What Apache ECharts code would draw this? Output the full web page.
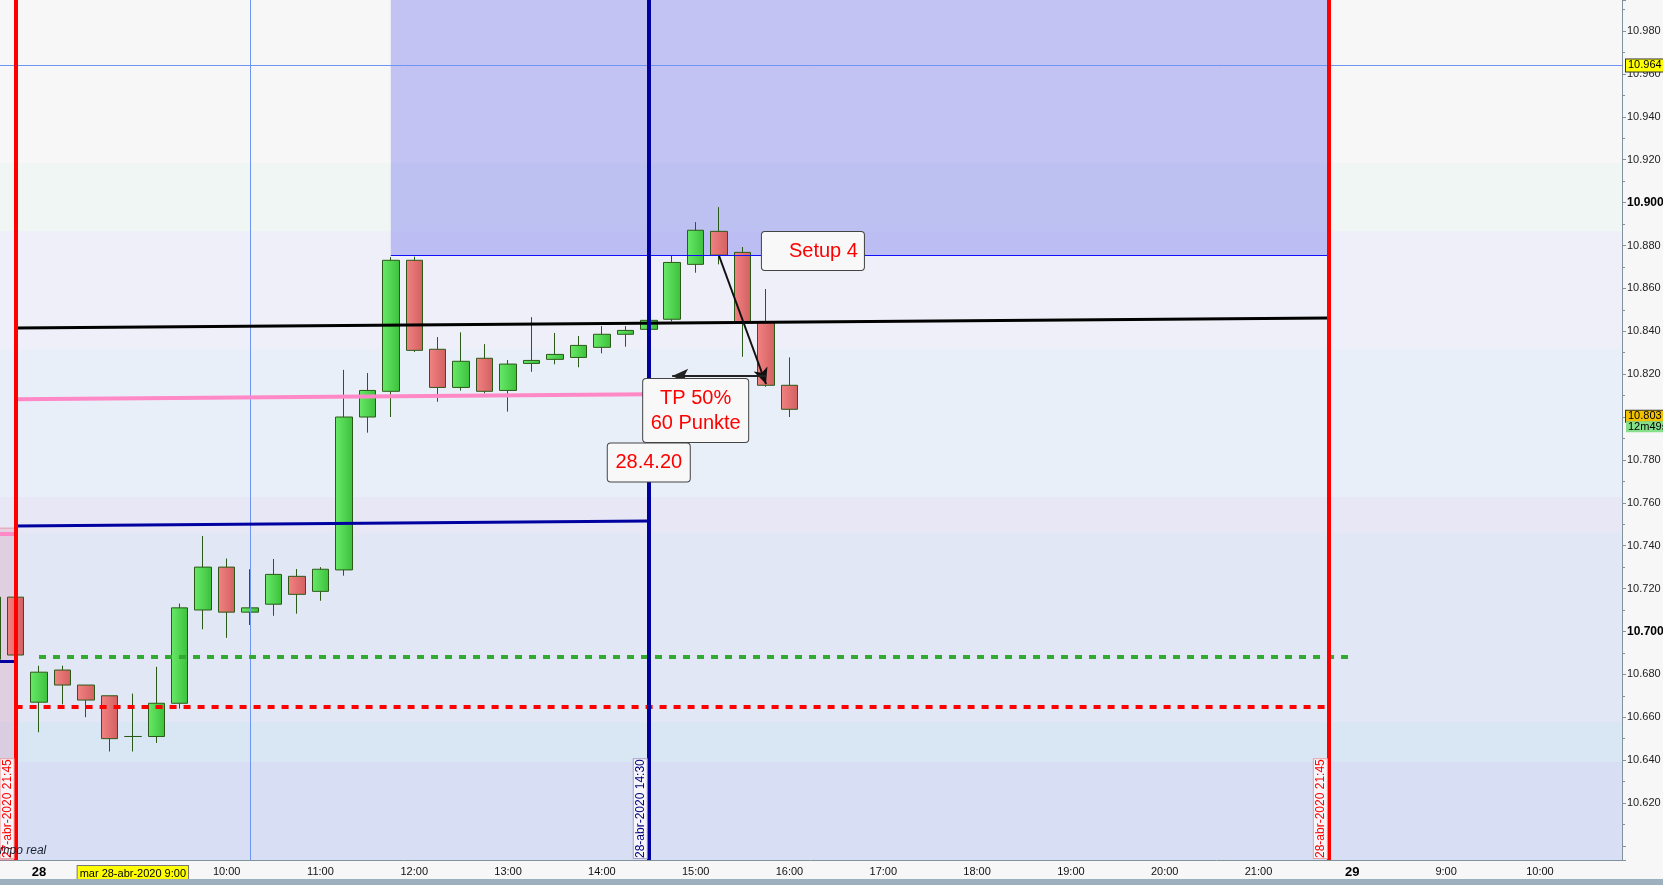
<!DOCTYPE html>
<html>
<head>
<meta charset="utf-8">
<script src="https://cdn.jsdelivr.net/npm/echarts@6/dist/echarts.min.js"></script>
<style>
    html, body { margin: 0; padding: 0; background: #f7f7f7; }
    #chart { width: 1663px; height: 885px; }
</style>
</head>
<body>
<div id="chart"></div>
<script>
// 15 minute slots, session 08:00 - 21:45
const slots = [
    '27 21:30', '27 21:45',
    '28 08:00', '28 08:15', '28 08:30', '28 08:45',
    '28 09:00', '28 09:15', '28 09:30', '28 09:45',
    '28 10:00', '28 10:15', '28 10:30', '28 10:45',
    '28 11:00', '28 11:15', '28 11:30', '28 11:45',
    '28 12:00', '28 12:15', '28 12:30', '28 12:45',
    '28 13:00', '28 13:15', '28 13:30', '28 13:45',
    '28 14:00', '28 14:15', '28 14:30', '28 14:45',
    '28 15:00', '28 15:15', '28 15:30', '28 15:45',
    '28 16:00', '28 16:15', '28 16:30', '28 16:45',
    '28 17:00', '28 17:15', '28 17:30', '28 17:45',
    '28 18:00', '28 18:15', '28 18:30', '28 18:45',
    '28 19:00', '28 19:15', '28 19:30', '28 19:45',
    '28 20:00', '28 20:15', '28 20:30', '28 20:45',
    '28 21:00', '28 21:15', '28 21:30', '28 21:45',
    '29 08:00', '29 08:15', '29 08:30', '29 08:45',
    '29 09:00', '29 09:15', '29 09:30', '29 09:45',
    '29 10:00', '29 10:15', '29 10:30', '29 10:45'
]

// [open, close, low, high]
const candles = [
    [10.687, 10.716, 10.684, 10.720],
    [10.716, 10.689, 10.689, 10.717],
    [10.667, 10.681, 10.653, 10.684],
    [10.682, 10.675, 10.666, 10.684],
    [10.675, 10.668, 10.660, 10.675],
    [10.670, 10.650, 10.644, 10.670],
    [10.651, 10.651, 10.644, 10.671],
    [10.651, 10.6665, 10.648, 10.6835],
    [10.6665, 10.711, 10.664, 10.713],
    [10.710, 10.730, 10.701, 10.7445],
    [10.730, 10.709, 10.697, 10.734],
    [10.709, 10.711, 10.703, 10.729],
    [10.7127, 10.7266, 10.7073, 10.7338],
    [10.7257, 10.7173, 10.7083, 10.7291],
    [10.7187, 10.729, 10.7143, 10.730],
    [10.7287, 10.800, 10.726, 10.822],
    [10.800, 10.8124, 10.7927, 10.8205],
    [10.812, 10.8731, 10.800, 10.8746],
    [10.8731, 10.8311, 10.8303, 10.8748],
    [10.8316, 10.8138, 10.8071, 10.8373],
    [10.8138, 10.826, 10.8123, 10.8395],
    [10.8274, 10.812, 10.811, 10.834],
    [10.8124, 10.8247, 10.8025, 10.8266],
    [10.825, 10.8264, 10.8211, 10.8466],
    [10.8269, 10.8292, 10.8246, 10.8392],
    [10.8278, 10.8334, 10.8232, 10.8378],
    [10.8325, 10.8386, 10.8297, 10.8424],
    [10.8386, 10.8404, 10.8328, 10.8424],
    [10.8409, 10.8451, 10.8405, 10.8455],
    [10.8456, 10.8721, 10.8446, 10.8751],
    [10.8712, 10.8871, 10.8673, 10.8909],
    [10.8866, 10.8755, 10.8712, 10.8979],
    [10.8768, 10.8444, 10.8281, 10.8793],
    [10.8444, 10.8148, 10.8141, 10.8597],
    [10.8148, 10.8036, 10.800, 10.8278]
]

// x axis labels
const tickSlots = ['28 08:00', '28 09:00', '28 10:00', '28 11:00', '28 12:00', '28 13:00', '28 14:00',
    '28 15:00', '28 16:00', '28 17:00', '28 18:00', '28 19:00', '28 20:00', '28 21:00',
    '29 08:00', '29 09:00', '29 10:00']
const tickText = ['28', '9:00', '10:00', '11:00', '12:00', '13:00', '14:00',
    '15:00', '16:00', '17:00', '18:00', '19:00', '20:00', '21:00',
    '29', '9:00', '10:00']
const cursorSlot = '28 09:00'
const cursorText = 'mar 28-abr-2020 9:00'
const crossSlot = '28 10:15'
const crossValue = 10.964
const lastPrice = 10.8036
const lastText = '10.803'
const timerText = '12m49s'
const boldLevels = ['10.900', '10.700']

const yMin = 10.5934
const yMax = 10.9945

// background price zones
const bandEdges = [yMax, 10.9184, 10.8867, 10.8317, 10.7627, 10.7459, 10.6578, 10.6391, yMin]
const bandColors = ['#f7f7f7', '#eff6f4', '#eeeff8', '#e9eff8', '#e8e7f5', '#e2e7f5', '#d9e7f5', '#d8dff5']

// drawn lines: [from slot, from value, to slot, to value]
const trendBlack = ['27 21:45', 10.8415, '28 21:45', 10.8462]
const trendPink = ['27 21:45', 10.8083, '28 14:30', 10.8106]
const trendNavy = ['27 21:45', 10.7492, '28 14:30', 10.7515]
const prevPink = ['27 21:30', 10.7454, '27 21:45', 10.7454]
const prevNavy = ['27 21:30', 10.6860, '27 21:45', 10.6860]
const dotGreen = ['28 08:00', 10.6884, '29 08:00', 10.6884]
const dotRed = ['27 21:45', 10.6651, '28 21:45', 10.6651]
const arrowDown = ['28 15:15', 10.8751, '28 15:45', 10.8154]
const arrowLeft = ['28 15:45', 10.8191, '28 14:45', 10.8191]

// zones
const setupZone = ['28 11:45', 10.8754, '28 21:45', 11.01]
const prevZone = ['27 21:30', 10.7482, '27 21:45', yMin]

// session markers
const sessionEnds = ['27 21:45', '28 21:45']
const sessionText = ['27-abr-2020 21:45', '28-abr-2020 21:45']
const entrySlot = '28 14:30'
const entryText = '28-abr-2020 14:30'

// text notes
const notes = ['Setup 4', 'TP 50%\n60 Punkte', '28.4.20']
const noteAt = [['28 16:15', 10.8774], ['28 15:00', 10.8030], ['28 14:30', 10.7788]]

const font = '"Liberation Sans", Arial, sans-serif'
const axisColor = '#7f929e'

const upFill = {
    type: 'linear', x: 0, y: 0, x2: 1, y2: 0,
    colorStops: [{ offset: 0, color: '#68ea68' }, { offset: 1, color: '#3cc03c' }]
}
const downFill = {
    type: 'linear', x: 0, y: 0, x2: 1, y2: 0,
    colorStops: [{ offset: 0, color: '#f38282' }, { offset: 1, color: '#d26060' }]
}

const seg = (s, style, from, to) => [
    { coord: [s[0], s[1]], symbol: from || 'none', lineStyle: style },
    { coord: [s[2], s[3]], symbol: to || 'none', lineStyle: style }
]

const bandAreas = bandColors.map((c, i) => [
    { yAxis: bandEdges[i + 1], itemStyle: { color: c } },
    { yAxis: bandEdges[i] }
])

const vLabel = (text, color, border) => ({
    show: true,
    position: 'insideStartTop',
    formatter: text,
    color: color,
    fontFamily: font,
    fontSize: 12,
    backgroundColor: '#f6f6fa',
    borderColor: border,
    borderWidth: 1,
    padding: [1, 0, 0, 0],
    distance: 2
})

const noteLabel = (i) => {
    const lines = notes[i].split('\n')
    const w = [90, 93, 70][i]
    return {
        show: true,
        position: 'inside',
        formatter: lines.map(l => '{t|' + l + '}').join('\n'),
        backgroundColor: '#f8f8f8',
        borderColor: '#444',
        borderWidth: 1,
        borderRadius: 3,
        padding: i === 1 ? [7, 6, 6, 6] : [8, 6, 8, 6],
        rich: {
            t: {
                width: w,
                align: i === 0 ? 'right' : 'center',
                color: '#ff0000',
                fontSize: 20,
                fontFamily: font,
                lineHeight: i === 1 ? 25 : 22
            }
        }
    }
}

const chart = echarts.init(document.getElementById('chart'))

const option = {
    animation: false,
    backgroundColor: '#f7f7f7',
    grid: { left: -19.6, right: 41, top: 0, bottom: 25, outerBoundsMode: 'none', containLabel: false },
    xAxis: {
        type: 'category',
        data: slots,
        boundaryGap: true,
        axisLine: { lineStyle: { color: axisColor } },
        axisTick: {
            interval: (idx, val) => tickSlots.includes(val),
            alignWithLabel: true,
            length: 3,
            lineStyle: { color: '#333' }
        },
        axisLabel: {
            interval: (idx, val) => tickSlots.includes(val),
            margin: 6,
            fontFamily: font,
            fontSize: 11,
            color: '#111',
            formatter: (val) => {
                if (val === cursorSlot) return '{hl|' + cursorText + '}'
                const t = tickText[tickSlots.indexOf(val)]
                return t.length <= 2 ? '{d|' + t + '}' : t
            },
            rich: {
                hl: {
                    backgroundColor: '#ffff00', borderColor: '#777', borderWidth: 1,
                    padding: [2, 2, 1, 2], fontSize: 11, fontFamily: font, color: '#000'
                },
                d: { fontSize: 13, fontWeight: 'bold', fontFamily: font, color: '#000' }
            }
        },
        splitLine: { show: false }
    },
    yAxis: {
        type: 'value',
        position: 'right',
        min: yMin,
        max: yMax,
        minInterval: 0.02,
        maxInterval: 0.02,
        axisLine: { show: true, lineStyle: { color: axisColor } },
        axisTick: { show: true, length: 4, lineStyle: { color: axisColor } },
        minorTick: { show: true, splitNumber: 2, length: 3, lineStyle: { color: axisColor } },
        splitLine: { show: false },
        axisLabel: {
            showMinLabel: false,
            showMaxLabel: false,
            margin: 5,
            fontFamily: font,
            fontSize: 11,
            color: '#222',
            formatter: (v) => {
                if (v < 10.61) return ''
                const s = v.toFixed(3)
                return boldLevels.includes(s) ? '{b|' + s + '}' : s
            },
            rich: { b: { fontWeight: 'bold', fontSize: 12, fontFamily: font, color: '#000' } }
        }
    },
    series: [{
        type: 'candlestick',
        data: candles,
        barWidth: 17,
        itemStyle: {
            color: upFill,
            color0: downFill,
            borderColor: '#2b5a18',
            borderColor0: '#2b5a18',
            borderColorDoji: '#2b5a18',
            borderWidth: 1
        },
        markArea: {
            silent: true,
            data: bandAreas.concat([
                [
                    {
                        coord: [setupZone[0], setupZone[1]],
                        itemStyle: { color: 'rgba(100,100,235,0.36)' }
                    },
                    { coord: [setupZone[2], setupZone[3]] }
                ],
                [
                    {
                        coord: [prevZone[0], prevZone[1]],
                        itemStyle: { color: 'rgba(220,150,180,0.3)', borderColor: 'rgba(240,100,100,0.5)', borderWidth: 1 }
                    },
                    { coord: [prevZone[2], prevZone[3]] }
                ]
            ])
        },
        markLine: {
            silent: true,
            precision: 4,
            symbol: ['none', 'none'],
            symbolSize: [11, 16],
            label: { show: false },
            data: [
                // setup zone edges
                seg([setupZone[0], setupZone[1], setupZone[0], setupZone[3]], { color: '#1010ff', width: 1, type: 'solid' }),
                seg([setupZone[0], setupZone[1], setupZone[2], setupZone[1]], { color: '#1010ff', width: 1, type: 'solid' }),
                // cursor
                { xAxis: crossSlot, lineStyle: { color: '#6f95f2', width: 1, type: 'solid' } },
                {
                    yAxis: crossValue,
                    lineStyle: { color: '#6f95f2', width: 1, type: 'solid' },
                    label: {
                        show: true, position: 'end', distance: 4, formatter: crossValue.toFixed(3),
                        backgroundColor: '#ffff00', borderColor: '#333', borderWidth: 1,
                        padding: [1, 2, 0, 2], color: '#000', fontSize: 11, fontFamily: font
                    }
                },
                // last price
                {
                    yAxis: lastPrice,
                    lineStyle: { color: 'rgba(0,0,0,0)', width: 0 },
                    label: {
                        show: true, position: 'end', distance: 4, offset: [0, 12],
                        formatter: '{p|' + lastText + '}\n{t|' + timerText + '}',
                        rich: {
                            p: {
                                backgroundColor: '#f2c200', borderColor: '#333', borderWidth: 1,
                                padding: [0, 3, 0, 2], color: '#000', fontSize: 11, fontFamily: font, lineHeight: 11
                            },
                            t: {
                                backgroundColor: '#86e08a', padding: [0, 3, 0, 2],
                                color: '#000', fontSize: 11, fontFamily: font, lineHeight: 10
                            }
                        }
                    }
                },
                seg(trendBlack, { color: '#000', width: 3, type: 'solid' }),
                seg(trendPink, { color: '#ff88c6', width: 4, type: 'solid' }),
                seg(trendNavy, { color: '#0000a0', width: 3, type: 'solid' }),
                seg(prevPink, { color: '#ff88c6', width: 4, type: 'solid' }),
                seg(prevNavy, { color: '#0000a0', width: 3, type: 'solid' }),
                seg(dotGreen, { color: '#33a833', width: 4, type: [7, 7] }),
                seg(dotRed, { color: '#ff0000', width: 4, type: [7, 7] }),
                // session ends & entry
                {
                    xAxis: sessionEnds[0], lineStyle: { color: '#ff0000', width: 4, type: 'solid' },
                    label: vLabel(sessionText[0], '#ff0000', '#f0a0a0')
                },
                {
                    xAxis: sessionEnds[1], lineStyle: { color: '#ff0000', width: 4, type: 'solid' },
                    label: vLabel(sessionText[1], '#ff0000', '#f0a0a0')
                },
                {
                    xAxis: entrySlot, lineStyle: { color: '#0000a0', width: 4, type: 'solid' },
                    label: vLabel(entryText, '#000080', '#a8a0c8')
                },
                seg(arrowDown, { color: '#111', width: 2, type: 'solid' }, 'none', 'arrow'),
                seg(arrowLeft, { color: '#222', width: 2, type: 'solid' }, 'none', 'arrow')
            ]
        },
        markPoint: {
            silent: true,
            symbol: 'rect',
            symbolSize: 1,
            itemStyle: { color: 'rgba(0,0,0,0)' },
            data: notes.map((n, i) => ({ coord: noteAt[i], label: noteLabel(i) }))
        }
    }],
    graphic: [
        {
            type: 'text', left: -17, top: 845, z: 10,
            style: { text: 'Tiempo real', font: 'italic 12px ' + font, fill: '#1a2030' }
        },
        {
            type: 'rect', left: 0, top: 879, z: 10,
            shape: { width: 1663, height: 6 },
            style: { fill: '#9cb1bd' }
        }
    ]
}

chart.setOption(option)
</script>
</body>
</html>
